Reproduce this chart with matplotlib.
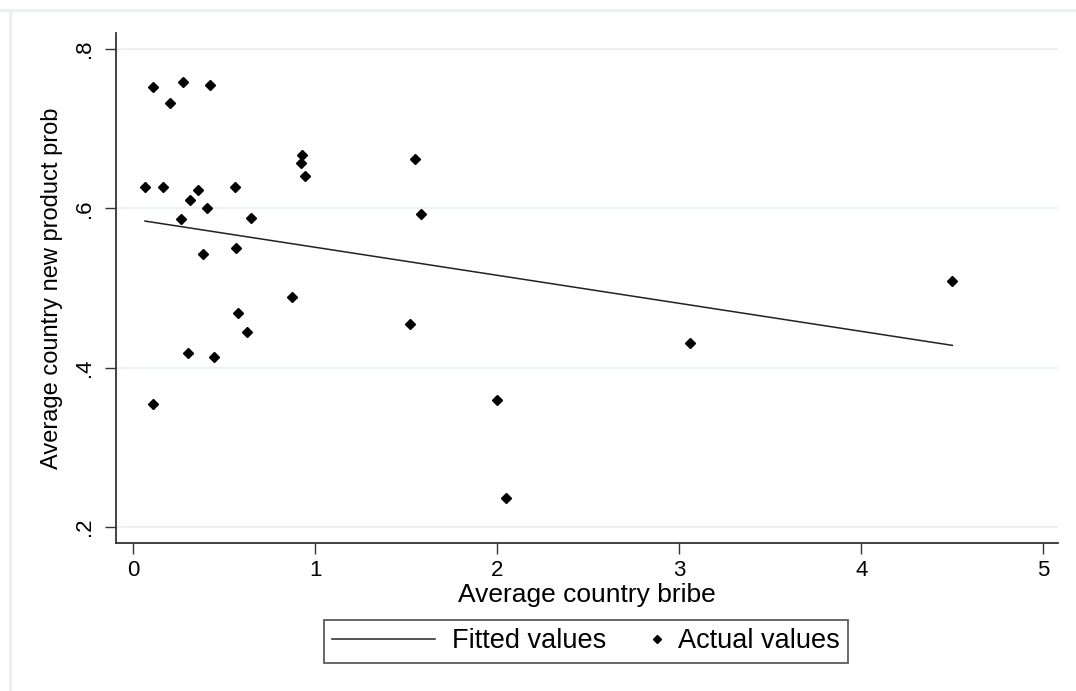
import matplotlib
matplotlib.use('Agg')
import matplotlib.pyplot as plt
from matplotlib.legend_handler import HandlerLine2D
from matplotlib.lines import Line2D

plt.rcParams['font.family'] = ['Liberation Sans', 'DejaVu Sans']

# data
bribe = [0.066, 0.11, 0.165, 0.203, 0.275, 0.264, 0.313, 0.357, 0.423, 0.407,
         0.385, 0.56, 0.566, 0.648, 0.577, 0.626, 0.302, 0.445, 0.11, 0.874,
         0.929, 0.923, 0.945, 1.55, 1.58, 1.52, 2.0, 2.05, 3.06, 4.5]
newprod = [0.627, 0.752, 0.627, 0.732, 0.759, 0.587, 0.611, 0.623, 0.755, 0.601,
           0.543, 0.627, 0.550, 0.588, 0.469, 0.445, 0.418, 0.413, 0.354, 0.489,
           0.667, 0.657, 0.641, 0.662, 0.593, 0.455, 0.360, 0.237, 0.431, 0.509]
# fitted values at min / max bribe
fitted = [0.584, 0.428]

xticks = [0, 1, 2, 3, 4, 5]
yticks = [0.2, 0.4, 0.6, 0.8]
ytick_labels = ['.2', '.4', '.6', '.8']


class EndMarker(HandlerLine2D):
    # put the legend marker at the right end of the handle box (stata style)
    # with numpoints=1 the marker sits in the middle of xdata
    def get_xdata(self, legend, xdescent, ydescent, width, height, fontsize):
        right = width - xdescent
        xdata = [right - 0.3 * fontsize, right]
        return xdata, [right - 0.15 * fontsize]


W, H = 1076, 691
fig = plt.figure(figsize=(W / 100, H / 100), dpi=100)
ax = fig.add_axes([116 / W, (H - 543) / H, (1058 - 116) / W, (543 - 33) / H])

fit_line, = ax.plot([min(bribe), max(bribe)], fitted, color='#222222', lw=1.1,
                    label='Fitted values')
pts, = ax.plot(bribe, newprod, 'D', ms=5.4, color='black', ls='none',
               label='Actual values')

ax.set_xlim(-0.093, 5.08)
ax.set_ylim(0.18, 0.82)
ax.set_xticks(xticks)
ax.set_yticks(yticks, ytick_labels)
for lab in ax.get_yticklabels():
    lab.set_rotation(90)
    lab.set_va('center')

ax.tick_params(axis='both', length=8, width=1, color='#333333', labelsize=16,
               direction='out')
ax.tick_params(axis='x', pad=4)
ax.tick_params(axis='y', pad=7)
for s in ['top', 'right']:
    ax.spines[s].set_visible(False)
for s in ['left', 'bottom']:
    ax.spines[s].set_color('#333333')
    ax.spines[s].set_linewidth(1.3)

ax.grid(axis='y', color='#eaf2f3', lw=1.5)
ax.set_axisbelow(True)

ax.set_xlabel('Average country bribe', fontsize=19, labelpad=2)
ax.set_ylabel('Average country new product prob', fontsize=17, labelpad=8)

leg = fig.legend([fit_line, pts], ['Fitted values', 'Actual values'], ncol=2,
                 loc='center', bbox_to_anchor=(586 / W, 1 - 641.5 / H),
                 fontsize=19.5, frameon=True, fancybox=False, edgecolor='#333333',
                 handlelength=3.8, handletextpad=0.62, columnspacing=-1.75,
                 borderpad=0.3, markerscale=0.8,
                 handler_map={pts: EndMarker()})
leg.get_frame().set_linewidth(1.3)

# faint outer frame of the graph region
fig.add_artist(Line2D([0, 1], [1 - 9.5 / H] * 2, transform=fig.transFigure,
                      color='#e8f0f2', lw=2.2))
fig.add_artist(Line2D([9.5 / W] * 2, [0, 1 - 9.5 / H], transform=fig.transFigure,
                      color='#e8f0f2', lw=2.2))

fig.savefig('out.png', dpi=100)
